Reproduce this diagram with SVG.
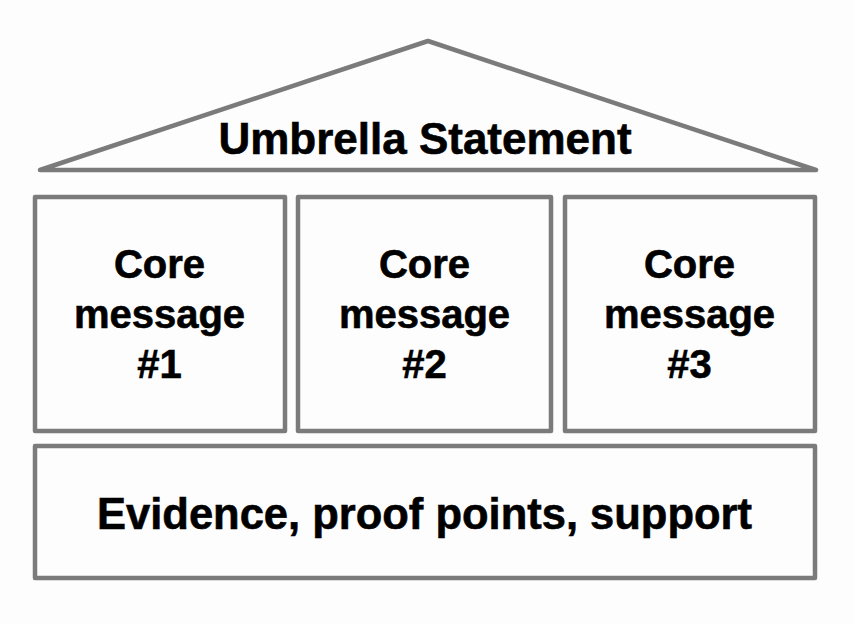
<svg xmlns="http://www.w3.org/2000/svg" width="854" height="624" viewBox="0 0 854 624">
<style>
.shape{fill:none;stroke:#7b7b7b;stroke-width:4.5;stroke-linejoin:round}
.lbl{font-family:"Liberation Sans",Arial,Helvetica,sans-serif;font-weight:bold;fill:#000;stroke:#000;stroke-width:0.6;text-anchor:middle}
.core{font-size:40px}
</style>
<rect width="854" height="624" fill="#fdfdfd"/>
<g id="roof">
<polygon class="shape" points="40,170 428,41 816,170"/>
<text class="lbl" x="425" y="154" font-size="44">Umbrella Statement</text>
</g>
<g id="core1">
<rect class="shape" x="35" y="197" width="250" height="234"/>
<text class="lbl core" x="160"><tspan x="159.5" y="278">Core</tspan><tspan x="159.5" y="328">message</tspan><tspan x="159.5" y="378">#1</tspan></text>
</g>
<g id="core2">
<rect class="shape" x="298" y="197" width="253" height="234"/>
<text class="lbl core" x="424.5"><tspan x="424.5" y="278">Core</tspan><tspan x="424.5" y="328">message</tspan><tspan x="424.5" y="378">#2</tspan></text>
</g>
<g id="core3">
<rect class="shape" x="565" y="197" width="250" height="234"/>
<text class="lbl core" x="690"><tspan x="689.5" y="278">Core</tspan><tspan x="689.5" y="328">message</tspan><tspan x="689.5" y="378">#3</tspan></text>
</g>
<g id="foundation">
<rect class="shape" x="35" y="446" width="780" height="132"/>
<text class="lbl" x="424.5" y="529" font-size="43.5">Evidence, proof points, support</text>
</g>
<g id="connectors"></g>
</svg>
